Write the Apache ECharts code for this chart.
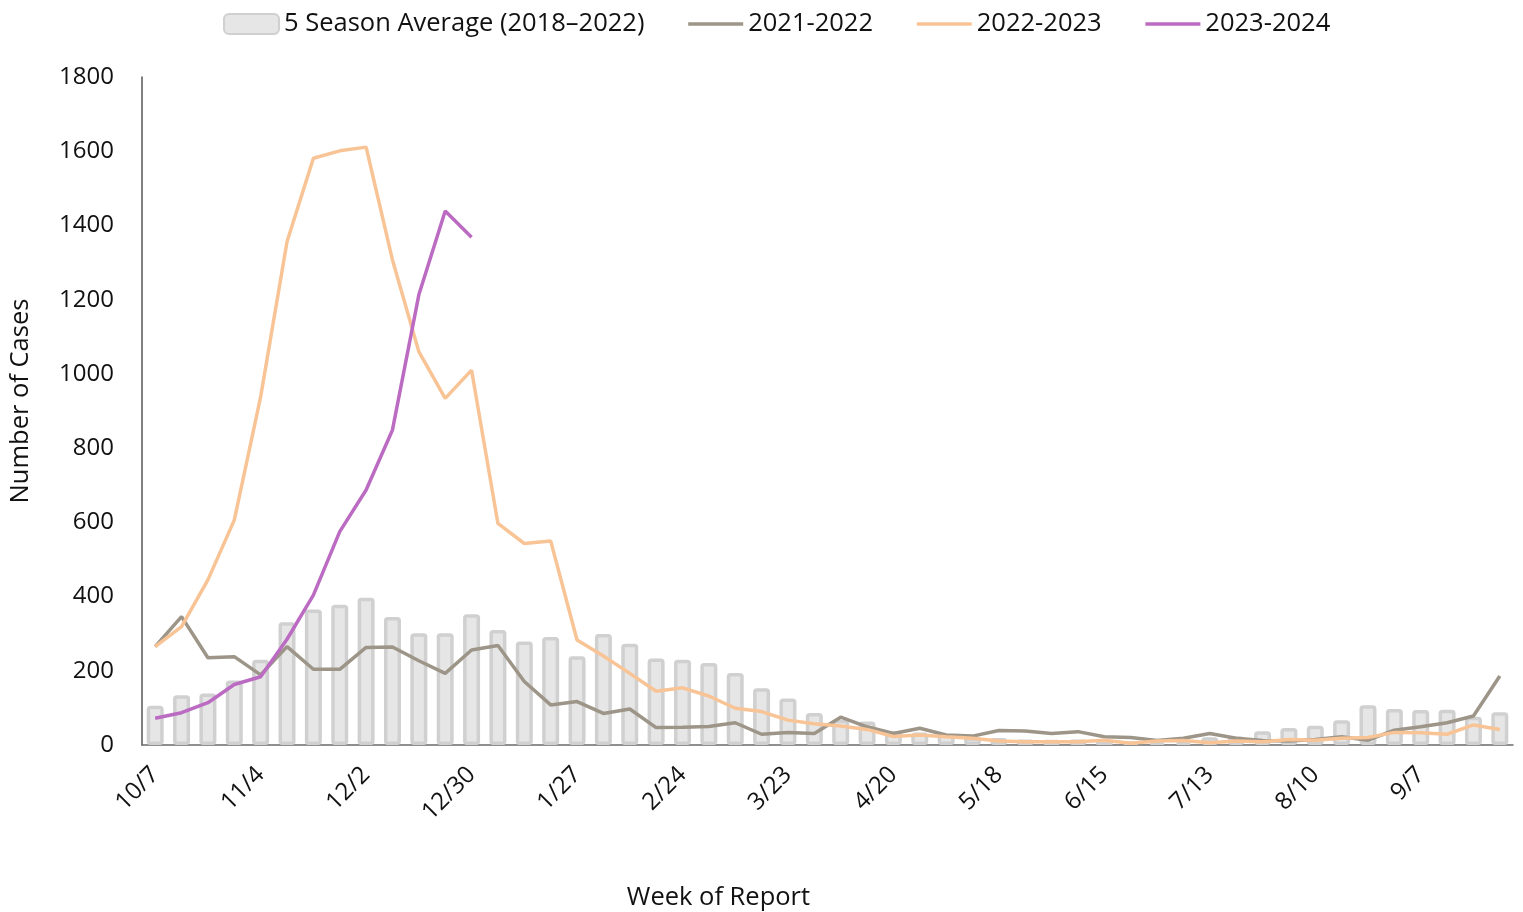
<!DOCTYPE html>
<html>
<head>
<meta charset="utf-8">
<script src="https://cdn.jsdelivr.net/npm/echarts@6/dist/echarts.min.js"></script>
<style>
  html, body { margin: 0; padding: 0; background: #fff; }
  #chart { width: 1523px; height: 912px; }
</style>
</head>
<body>
<div id="chart"></div>
<script>
// weeks of report, 10/7 through 9/28
const weeks = [
  '10/7', '10/14', '10/21', '10/28', '11/4', '11/11', '11/18', '11/25',
  '12/2', '12/9', '12/16', '12/23', '12/30', '1/6', '1/13', '1/20',
  '1/27', '2/3', '2/10', '2/17', '2/24', '3/2', '3/9', '3/16',
  '3/23', '3/30', '4/6', '4/13', '4/20', '4/27', '5/4', '5/11',
  '5/18', '5/25', '6/1', '6/8', '6/15', '6/22', '6/29', '7/6',
  '7/13', '7/20', '7/27', '8/3', '8/10', '8/17', '8/24', '8/31',
  '9/7', '9/14', '9/21', '9/28'
];

const avg5Season = [
  106, 134, 139, 174, 230, 331, 365, 378, 397, 345, 301, 301, 352,
  310, 279, 291, 239, 299, 273, 233, 230, 221, 194, 153, 125, 86,
  68, 63, 38, 34, 29, 21, 19, 15, 14, 15, 10, 9, 9, 9,
  21, 23, 37, 46, 52, 67, 107, 97, 94, 95, 76, 88
];

const season2122 = [
  265, 346, 235, 238, 189, 265, 204, 204, 263, 264, 227, 193, 256,
  268, 171, 108, 117, 85, 97, 47, 48, 50, 60, 29, 34, 31,
  75, 49, 31, 45, 27, 24, 39, 38, 31, 36, 22, 20, 12, 18,
  31, 18, 12, 11, 15, 22, 13, 40, 49, 60, 78, 186
];

const season2223 = [
  265, 319, 445, 606, 938, 1356, 1581, 1601, 1611, 1307, 1060, 934, 1010,
  597, 543, 550, 283, 240, 193, 145, 154, 132, 99, 90, 67, 57,
  51, 42, 23, 27, 22, 18, 11, 9, 9, 9, 13, 5, 11, 12,
  6, 11, 9, 15, 13, 18, 20, 34, 33, 29, 54, 42
];

const season2324 = [
  72, 87, 114, 163, 184, 285, 404, 575, 687, 849, 1213, 1439, 1368
];

const yTicks = { min: 0, max: 1800, interval: 200 };

const font = '"Open Sans", "Noto Sans", sans-serif';
const lineNames = ['2021-2022', '2022-2023', '2023-2024'];
const chart = echarts.init(document.getElementById('chart'));

chart.setOption({
  animation: false,
  textStyle: { fontFamily: font },
  legend: {
    top: 6,
    left: 218,
    itemWidth: 55,
    itemHeight: 20,
    itemGap: 42,
    lineStyle: { width: 3.5 },
    // hide the circle marker on line icons, keep just the stroke
    data: ['5 Season Average (2018–2022)'].concat(
      lineNames.map(n => ({ name: n, itemStyle: { opacity: 0 } }))
    ),
    textStyle: { fontSize: 25.5, color: '#111', fontFamily: font }
  },
  grid: {
    left: 142, right: 10, top: 77, bottom: 167,
    containLabel: false,
    outerBoundsMode: 'none'
  },
  xAxis: {
    type: 'category',
    data: weeks,
    boundaryGap: true,
    axisLine: { lineStyle: { color: '#6b6b6b', width: 1.5 } },
    axisTick: { show: false },
    axisLabel: {
      interval: 3,
      rotate: 45,
      fontSize: 24,
      color: '#111',
      margin: 26
    },
    name: 'Week of Report',
    nameLocation: 'middle',
    nameGap: 140,
    nameTextStyle: { fontSize: 25.5, color: '#111', padding: [0, 218, 0, 0] }
  },
  yAxis: {
    type: 'value',
    min: yTicks.min,
    max: yTicks.max,
    interval: yTicks.interval,
    axisLine: { show: true, lineStyle: { color: '#555', width: 1.5 } },
    axisTick: { show: false },
    splitLine: { show: false },
    axisLabel: {
      fontSize: 24,
      color: '#111',
      margin: 28,
      formatter: v => String(v)
    },
    name: 'Number of Cases',
    nameLocation: 'middle',
    nameGap: 108,
    nameTextStyle: { fontSize: 25.5, color: '#111', padding: [0, 0, 0, 20] }
  },
  series: [
    {
      name: '5 Season Average (2018–2022)',
      type: 'bar',
      data: avg5Season,
      barWidth: 17,
      itemStyle: {
        color: '#e6e6e6',
        borderColor: '#d0d0d0',
        borderWidth: 3.5,
        borderRadius: 2
      },
      z: 1
    },
    {
      name: '2021-2022',
      type: 'line',
      data: season2122,
      symbol: 'none',
      lineStyle: { color: '#9c9588', width: 3.5 },
      itemStyle: { color: '#9c9588' },
      z: 3
    },
    {
      name: '2022-2023',
      type: 'line',
      data: season2223,
      symbol: 'none',
      lineStyle: { color: '#f8c496', width: 3.5 },
      itemStyle: { color: '#f8c496' },
      z: 4
    },
    {
      name: '2023-2024',
      type: 'line',
      data: season2324,
      symbol: 'none',
      lineStyle: { color: '#bb6bc2', width: 3.5 },
      itemStyle: { color: '#bb6bc2' },
      z: 5
    }
  ]
});
</script>
</body>
</html>
